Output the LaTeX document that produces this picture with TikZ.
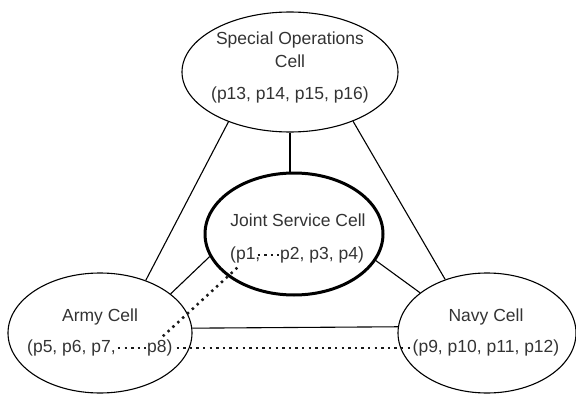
\documentclass[tikz,border=0pt]{standalone}
\usepackage{fontspec}
\setmainfont{Liberation Sans}
\usetikzlibrary{shapes.geometric}
\begin{document}
\begin{tikzpicture}[x=1pt,y=-1pt,
  cell/.style={draw=black, ellipse, inner sep=0pt, line width=1.1pt},
  jointcell/.style={cell, line width=3pt},
  lbl/.style={inner sep=0pt, text=black!80, font=\fontsize{17.5}{21}\selectfont, text height=13pt, text depth=4pt},
  link/.style={draw=black, line width=1.1pt},
  dots/.style={draw=black!90, line width=2.5pt, dash pattern=on 2.4pt off 4.2pt}]
\useasboundingbox (0,0) rectangle (576,396);
% cells
\node[cell, minimum width=216pt, minimum height=120pt] (so) at (290,72) {};
\node[jointcell, minimum width=178pt, minimum height=122pt] (joint) at (294,234) {};
\node[cell, minimum width=184pt, minimum height=120pt] (army) at (100,333) {};
\node[cell, minimum width=178pt, minimum height=120pt] (navy) at (487,333) {};
% labels
\node[lbl] (sot) at (290,40) {Special Operations};
\node[lbl] (soc) at (290,63) {Cell};
\node[lbl] (sol) at (290,95) {(p13, p14, p15, p16)};
\node[lbl] (jt) at (298,222) {Joint Service Cell};
\node[lbl, anchor=west] (j1) at (230,255) {(p1,};
\node[lbl, anchor=west] (j2) at (280,255) {p2, p3, p4)};
\node[lbl] (at) at (100,317) {Army Cell};
\node[lbl, anchor=west] (a1) at (27,348) {(p5, p6, p7,};
\node[lbl, anchor=west] (a2) at (147,348) {p8)};
\node[lbl] (nt) at (486,317) {Navy Cell};
\node[lbl] (nl) at (486,348) {(p9, p10, p11, p12)};
% links
\draw[link] (so.south) -- (so.south |- joint.north);
\draw[link] (so.219.3) -- (army.49.9);
\draw[link] (so.322.1) -- (navy.128.4);
\draw[link] (joint.195.6) -- (army.29.7);
\draw[link] (joint.342.8) -- (navy.149.9);
\draw[link] (army.3.1) -- (navy.176.8);
% dotted ties
\draw[dots, shorten <=2pt, shorten >=1pt] (a1.east) -- (a2.west);
\draw[dots, shorten <=4pt, shorten >=3pt] (a2.east) -- (nl.west);
\draw[dots] ([xshift=3pt,yshift=3pt]a2.north) -- ([xshift=-8pt,yshift=-4pt]j1.south);
\draw[dots, shorten <=-3pt, shorten >=1pt] (j1.east) -- (j2.west);
\end{tikzpicture}
\end{document}
